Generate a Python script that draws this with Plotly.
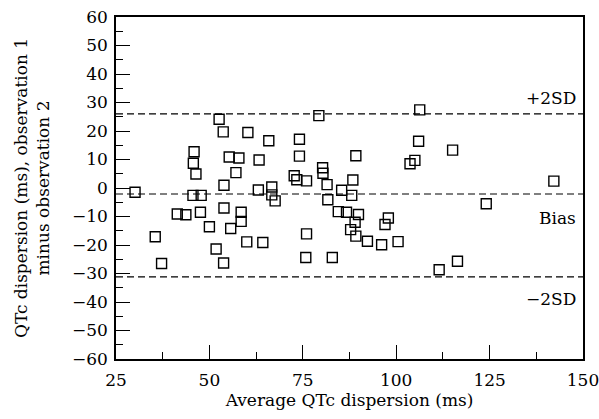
import plotly.graph_objects as go

avg_qtc = [30.1, 35.5, 37.2, 41.4, 43.7, 45.9, 45.7, 46.4, 45.6, 47.8,
           47.6, 50.0, 51.8, 52.6, 53.7, 53.9, 53.9, 53.8, 55.3, 57.9,
           57.1, 55.7, 58.5, 58.5, 60.3, 60.0, 65.9, 63.3, 63.1, 64.3,
           66.7, 66.7, 67.6, 74.1, 74.1, 72.7, 73.4, 76.0, 76.0, 75.8,
           79.3, 80.3, 80.4, 81.5, 81.7, 82.9, 84.5, 85.4, 86.7, 88.1,
           88.4, 89.2, 89.9, 89.0, 87.8, 89.2, 92.3, 96.1, 100.5, 97.9,
           97.0, 103.7, 105.0, 106.0, 106.3, 115.1, 111.5, 116.4, 124.1, 142.2]
diff_qtc = [-1.5, -17.1, -26.5, -9.1, -9.4, 12.7, 8.7, 4.9, -2.6, -2.6,
            -8.5, -13.6, -21.4, 24.1, 19.7, 0.95, -7.0, -26.3, 10.9, 10.5,
            5.4, -14.2, -8.5, -11.7, 19.5, -18.9, 16.6, 9.8, -0.7, -19.1,
            0.35, -2.4, -4.5, 17.1, 11.2, 4.3, 2.9, 2.5, -16.1, -24.4,
            25.4, 7.1, 5.2, 1.2, -4.1, -24.4, -8.3, -0.8, -8.5, -2.6,
            2.8, 11.3, -9.3, -12.0, -14.6, -16.9, -18.7, -19.9, -18.8, -10.5,
            -12.8, 8.5, 9.7, 16.4, 27.4, 13.3, -28.7, -25.7, -5.5, 2.4]

upper_limit = 26.0
bias = -2.1
lower_limit = -31.2
limit_labels = ["+2SD", "Bias", "\u22122SD"]
x_ticks = [25, 50, 75, 100, 125, 150]
y_ticks = list(range(-60, 61, 10))

FONT = "DejaVu Serif"
FS = 17

fig = go.Figure()
fig.add_trace(go.Scatter(
    x=avg_qtc, y=diff_qtc, mode="markers",
    marker=dict(symbol="square-open", size=10, color="black",
                line=dict(width=1.4, color="black")),
    showlegend=False, cliponaxis=False))

for yv in [upper_limit, bias, lower_limit]:
    fig.add_shape(type="line", xref="paper", x0=0, x1=1, yref="y", y0=yv, y1=yv,
                  line=dict(color="black", width=1.2, dash="7px,4px"))

fig.add_annotation(x=1, xref="paper", y=upper_limit, yref="y", text=limit_labels[0],
                   showarrow=False, xanchor="right", yanchor="bottom", xshift=-5, yshift=4,
                   font=dict(family=FONT, size=FS, color="black"))
fig.add_annotation(x=1, xref="paper", y=bias, yref="y", text=limit_labels[1],
                   showarrow=False, xanchor="right", yanchor="top", xshift=-5, yshift=-12,
                   font=dict(family=FONT, size=FS, color="black"))
fig.add_annotation(x=1, xref="paper", y=lower_limit, yref="y", text=limit_labels[2],
                   showarrow=False, xanchor="right", yanchor="top", xshift=-5, yshift=-10,
                   font=dict(family=FONT, size=FS, color="black"))

axis_common = dict(showgrid=False, zeroline=False, showline=True, linecolor="black",
                   linewidth=1.5, mirror=True, ticks="inside", ticklen=14, tickwidth=1.2,
                   tickcolor="black", automargin=False,
                   tickfont=dict(family=FONT, size=FS, color="black"))

fig.update_xaxes(range=[25, 150], tickvals=x_ticks, ticklabelstandoff=5,
                 title=dict(text="Average QTc dispersion (ms)", standoff=4,
                            font=dict(family=FONT, size=FS, color="black")),
                 minor=dict(ticks="inside", ticklen=7, dtick=12.5, tick0=25,
                            tickcolor="black", tickwidth=1),
                 **axis_common)
fig.update_yaxes(range=[-60, 60], tickvals=y_ticks, ticklabelstandoff=3,
                 title=dict(text="QTc dispersion (ms), observation 1<br>minus observation 2",
                            standoff=18,
                            font=dict(family=FONT, size=FS, color="black")),
                 minor=dict(ticks="inside", ticklen=7, dtick=5, tick0=0,
                            tickcolor="black", tickwidth=1),
                 **axis_common)

fig.update_layout(width=620, height=419,
                  margin=dict(l=116, r=37, t=17, b=60),
                  plot_bgcolor="white", paper_bgcolor="white",
                  font=dict(family=FONT, color="black"))

fig.write_html("out.html", config={"displayModeBar": False},
               post_script="document.body.style.margin='0';document.body.style.overflow='hidden';")
